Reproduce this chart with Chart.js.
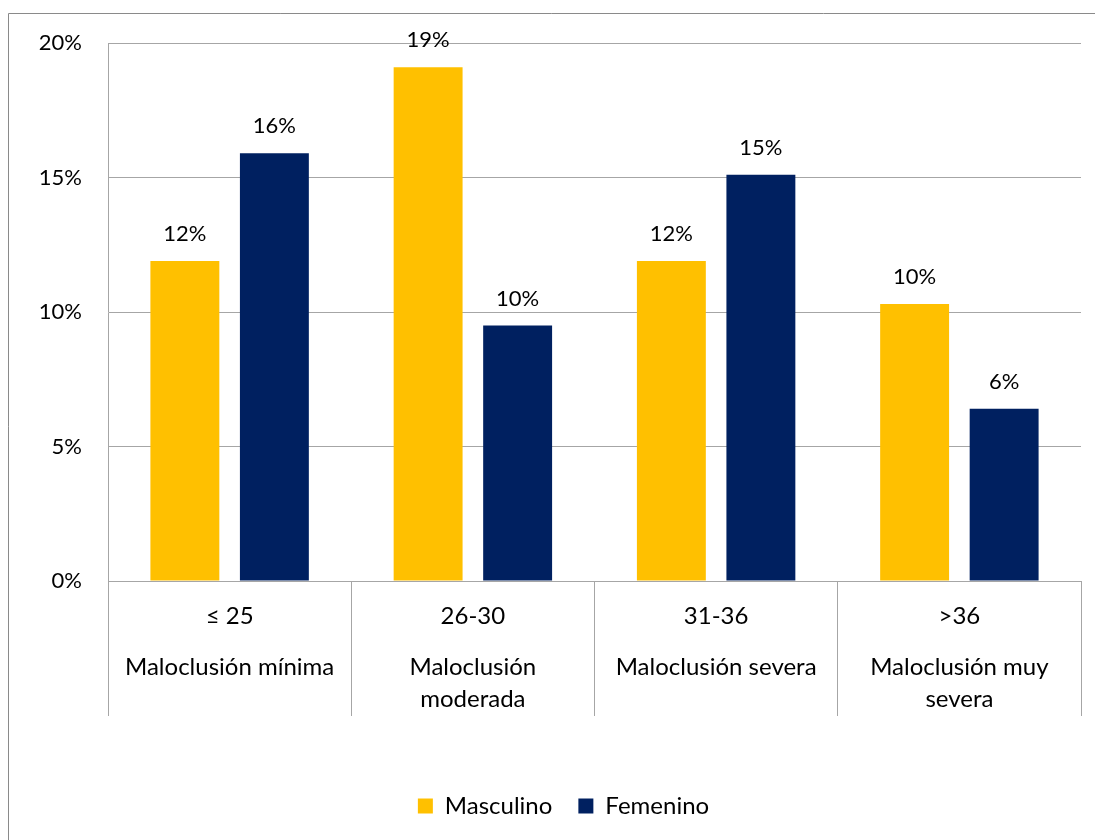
<!DOCTYPE html>
<html>
<head>
<meta charset="utf-8">
<script src="https://cdn.jsdelivr.net/npm/chart.js@4"></script>
<style>
  body { margin: 0; background: #fff; }
  #wrap { width: 1095px; height: 840px; }
</style>
</head>
<body>
<div id="wrap"><canvas id="chart"></canvas></div>
<script>
// score ranges and the group names shown under them
const ranges = ["≤ 25", "26-30", "31-36", ">36"];
const groups = [
  ["Maloclusión mínima"],
  ["Maloclusión", "moderada"],
  ["Maloclusión severa"],
  ["Maloclusión muy", "severa"],
];
// percent of patients per range
const masculino = [11.9, 19.1, 11.9, 10.3];
const femenino = [15.9, 9.5, 15.1, 6.4];
const yTicks = [0, 5, 10, 15, 20];

const FONT = "Lato, 'Open Sans', sans-serif";
const GRID = "#a6a6a6";

//frame round the chart plus value labels and the two-level category text
const extras = {
  id: "extras",
  afterLayout(chart) {
    // legend sits centred under the outer frame, a bit right of the canvas middle
    chart.legend.left += 23;
    chart.legend.right += 23;
  },
  beforeDraw(chart) {
    const ctx = chart.ctx;
    ctx.save();
    ctx.strokeStyle = "#8a8a8a";
    ctx.lineWidth = 1;
    ctx.beginPath();
    ctx.moveTo(8.5, 840);
    ctx.lineTo(8.5, 13.5);
    ctx.lineTo(1095, 13.5);
    ctx.stroke();
    ctx.restore();
  },
  afterDatasetsDraw(chart) {
    const ctx = chart.ctx;
    ctx.save();
    ctx.fillStyle = "#000";
    ctx.textAlign = "center";
    ctx.textBaseline = "middle";
    ctx.font = "22px " + FONT;
    chart.data.datasets.forEach((ds, i) => {
      chart.getDatasetMeta(i).data.forEach((bar, j) => {
        ctx.fillText(Math.round(ds.data[j]) + "%", bar.x, bar.y - 27);
      });
    });
    const xs = chart.scales.x;
    const top = xs.top;
    ctx.font = "24px " + FONT;
    ranges.forEach((r, i) => {
      const x = xs.getPixelForValue(i);
      ctx.fillText(r, x, top + 35);
      groups[i].forEach((line, k) => {
        ctx.fillText(line, x, top + 86 + k * 32);
      });
    });
    ctx.restore();
  },
};

new Chart(document.getElementById("chart"), {
  type: "bar",
  plugins: [extras],
  data: {
    labels: ranges,
    datasets: [
      { label: "Masculino", data: masculino, backgroundColor: "#ffc000" },
      { label: "Femenino", data: femenino, backgroundColor: "#002060" },
    ],
  },
  options: {
    responsive: true,
    maintainAspectRatio: false,
    animation: false,
    datasets: { bar: { categoryPercentage: 0.736, barPercentage: 0.77 } },
    layout: { padding: { top: 43, right: 14, bottom: 12, left: 0 } },
    scales: {
      x: {
        grid: {
          display: true,
          offset: true,
          drawOnChartArea: false,
          drawTicks: true,
          tickLength: 135,
          color: GRID,
        },
        border: { display: true, color: GRID },
        ticks: { display: false },
        afterFit: (s) => { s.height = 187; },
      },
      y: {
        min: 0,
        max: 20,
        afterBuildTicks: (s) => { s.ticks = yTicks.map((v) => ({ value: v })); },
        grid: { color: GRID, drawTicks: false },
        border: { display: true, color: GRID },
        ticks: {
          padding: 26,
          color: "#000",
          font: { family: FONT, size: 22 },
          callback: (v) => v + "%",
        },
        afterFit: (s) => { s.width = 108; },
      },
    },
    plugins: {
      tooltip: { enabled: false },
      legend: {
        position: "bottom",
        labels: {
          boxWidth: 15,
          boxHeight: 15,
          padding: 26,
          color: "#000",
          font: { family: FONT, size: 24 },
        },
      },
    },
  },
});
</script>
</body>
</html>
